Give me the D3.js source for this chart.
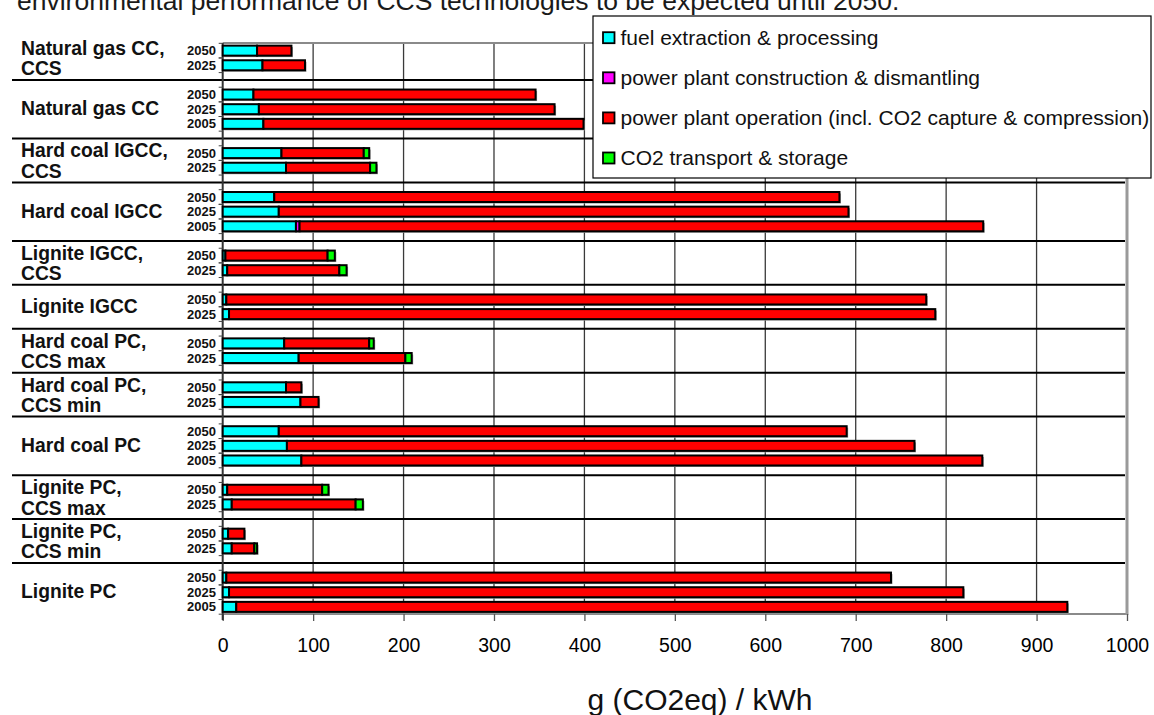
<!DOCTYPE html>
<html>
<head>
<meta charset="utf-8">
<script src="https://cdn.jsdelivr.net/npm/d3@7/dist/d3.min.js"></script>
<style>
  html, body { margin: 0; padding: 0; background: #fff; }
  svg { display: block; font-family: "Liberation Sans", Arial, sans-serif; }
</style>
</head>
<body>
<svg id="chart" width="1154" height="715"></svg>
<script>
// ---------------- data ----------------
const title = "environmental performance of CCS technologies to be expected until 2050.";
const groupLabels = [
  "Natural gas CC,\nCCS",
  "Natural gas CC",
  "Hard coal IGCC,\nCCS",
  "Hard coal IGCC",
  "Lignite IGCC,\nCCS",
  "Lignite IGCC",
  "Hard coal PC,\nCCS max",
  "Hard coal PC,\nCCS min",
  "Hard coal PC",
  "Lignite PC,\nCCS max",
  "Lignite PC,\nCCS min",
  "Lignite PC"
];
const groupYears = [
  ["2050", "2025"],
  ["2050", "2025", "2005"],
  ["2050", "2025"],
  ["2050", "2025", "2005"],
  ["2050", "2025"],
  ["2050", "2025"],
  ["2050", "2025"],
  ["2050", "2025"],
  ["2050", "2025", "2005"],
  ["2050", "2025"],
  ["2050", "2025"],
  ["2050", "2025", "2005"]
];
// one value per bar, in the order of the rows above (g CO2eq / kWh)
const fuelExtraction = [38, 44, 34, 40, 45, 65, 70, 57, 62, 81, 3, 5, 4, 7, 68, 84, 70, 86, 62, 71, 87, 5, 10, 6, 10, 4, 7, 15];
const plantConstruction = [0, 0, 0, 0, 0, 0, 0, 0, 0, 4, 0, 0, 0, 0, 0, 0, 0, 0, 0, 0, 0, 0, 0, 0, 0, 0, 0, 0];
const plantOperation = [38, 47, 312, 327, 354, 91, 93, 625, 630, 756, 113, 124, 774, 781, 94, 118, 17, 20, 628, 694, 753, 105, 137, 18, 25, 735, 812, 919];
const co2Transport = [0, 0, 0, 0, 0, 6, 7, 0, 0, 0, 8, 8, 0, 0, 5, 7, 0, 0, 0, 0, 0, 7, 8, 0, 3, 0, 0, 0];
const seriesNames = [
  "fuel extraction & processing",
  "power plant construction & dismantling",
  "power plant operation (incl. CO2 capture & compression)",
  "CO2 transport & storage"
];
const seriesColors = ["#00FFFF", "#FF00FF", "#FF0000", "#00FF00"];
const xTicks = [0, 100, 200, 300, 400, 500, 600, 700, 800, 900, 1000];
const xTitle = "g (CO2eq) / kWh";

// ---------------- build rows ----------------
const seriesValues = [fuelExtraction, plantConstruction, plantOperation, co2Transport];
const rows = [];
const groups = [];
let unit = 0, r = 0;
groupLabels.forEach((label, gi) => {
  const yrs = groupYears[gi];
  const start = unit;
  yrs.forEach((yr, k) => {
    rows.push({ year: yr, pos: start + 1 + k, values: seriesValues.map(s => s[r]) });
    r++;
  });
  unit = start + yrs.length + 1;
  groups.push({ label, start, end: unit, center: (start + unit) / 2 });
});
const totalUnits = unit;

// ---------------- scales ----------------
const svg = d3.select("#chart");
const x = d3.scaleLinear().domain([0, 1000]).range([222.7, 1127]);
const y = d3.scaleLinear().domain([0, totalUnits]).range([36, 621.5]);
const plotTop = 43, plotBottom = 614;
const barH = 10;

svg.append("rect").attr("width", 1154).attr("height", 715).attr("fill", "#fff");

// title (partially cut at the top, as in the source)
svg.append("text")
  .attr("x", 17).attr("y", 10)
  .attr("font-size", 26.5).attr("fill", "#1a1a1a")
  .text(title);

// vertical gridlines
svg.append("g").selectAll("line")
  .data(xTicks.filter(t => t > 0 && t < 1000))
  .join("line")
  .attr("x1", d => x(d)).attr("x2", d => x(d))
  .attr("y1", plotTop).attr("y2", plotBottom)
  .attr("stroke", "#3a3a3a").attr("stroke-width", 1.3);

// plot frame top / bottom / right (grey)
svg.append("line").attr("x1", x(0)).attr("x2", x(1000)).attr("y1", plotTop).attr("y2", plotTop)
  .attr("stroke", "#8a8a8a").attr("stroke-width", 2);
svg.append("line").attr("x1", x(0)).attr("x2", x(1000)).attr("y1", plotBottom).attr("y2", plotBottom)
  .attr("stroke", "#8a8a8a").attr("stroke-width", 2);
svg.append("line").attr("x1", x(1000)).attr("x2", x(1000)).attr("y1", plotTop - 1).attr("y2", plotBottom + 1)
  .attr("stroke", "#9a9a9a").attr("stroke-width", 3);

// group separators
svg.append("g").selectAll("line")
  .data(groups.slice(0, -1))
  .join("line")
  .attr("x1", 12).attr("x2", 1125)
  .attr("y1", d => y(d.end)).attr("y2", d => y(d.end))
  .attr("stroke", "#000").attr("stroke-width", 2);

// x axis
const xAxis = d3.axisBottom(x).tickValues(xTicks).tickSize(7).tickPadding(17).tickFormat(d3.format("d"));
const gx = svg.append("g").attr("transform", `translate(0,${plotBottom})`).call(xAxis);
gx.select(".domain").remove();
gx.selectAll(".tick line").attr("stroke", "#555").attr("stroke-width", 1.3);
gx.selectAll(".tick text").attr("font-size", 19.5).attr("fill", "#000")
  .attr("font-family", "'Liberation Sans', Arial, sans-serif");

// axis title
svg.append("text").attr("x", 700).attr("y", 710).attr("text-anchor", "middle")
  .attr("font-size", 30).attr("fill", "#111").text(xTitle);

// y axis line with little ticks
svg.append("line").attr("x1", x(0)).attr("x2", x(0)).attr("y1", plotTop).attr("y2", plotBottom + 6)
  .attr("stroke", "#333").attr("stroke-width", 2);
const tickPos = [];
rows.forEach(d => { tickPos.push(d.pos - 0.5); tickPos.push(d.pos + 0.5); });
svg.append("g").selectAll("line")
  .data(tickPos)
  .join("line")
  .attr("x1", x(0) - 4).attr("x2", x(0))
  .attr("y1", d => y(d)).attr("y2", d => y(d))
  .attr("stroke", "#444").attr("stroke-width", 1);

// bars
const barG = svg.append("g");
rows.forEach(d => {
  const total = d3.sum(d.values);
  const yc = y(d.pos);
  barG.append("rect")
    .attr("x", x(0) + 1.5).attr("y", yc - barH / 2 + 1.5)
    .attr("width", x(total) - x(0)).attr("height", barH)
    .attr("fill", "#9a9a9a");
  let acc = 0;
  d.values.forEach((v, si) => {
    if (v > 0) {
      barG.append("rect")
        .attr("x", x(acc)).attr("y", yc - barH / 2)
        .attr("width", x(acc + v) - x(acc)).attr("height", barH)
        .attr("fill", seriesColors[si])
        .attr("stroke", "#000").attr("stroke-width", 2);
    }
    acc += v;
  });
});

// year labels
svg.append("g").selectAll("text")
  .data(rows)
  .join("text")
  .attr("x", 216).attr("y", d => y(d.pos) + 4.6)
  .attr("text-anchor", "end")
  .attr("font-size", 13).attr("font-weight", "bold").attr("fill", "#111")
  .text(d => d.year);

// group labels
groups.forEach(g => {
  const lines = g.label.split("\n");
  const t = svg.append("text")
    .attr("font-size", 19.3).attr("font-weight", "bold").attr("fill", "#111");
  const cy = y(g.center);
  if (lines.length === 1) {
    t.append("tspan").attr("x", 21).attr("y", cy + 6).text(lines[0]);
  } else {
    t.append("tspan").attr("x", 21).attr("y", cy - 3).text(lines[0]);
    t.append("tspan").attr("x", 21).attr("y", cy - 3 + 20.5).text(lines[1]);
  }
});

// legend
const lg = svg.append("g");
lg.append("rect").attr("x", 593).attr("y", 16).attr("width", 558).attr("height", 162)
  .attr("fill", "#fff").attr("stroke", "#000").attr("stroke-width", 1.2);
const ly = d3.scalePoint().domain(seriesNames).range([37.7, 158]);
seriesNames.forEach((name, i) => {
  lg.append("rect").attr("x", 603).attr("y", ly(name) - 5.5).attr("width", 11.5).attr("height", 11)
    .attr("fill", seriesColors[i]).attr("stroke", "#000").attr("stroke-width", 1.8);
  lg.append("text").attr("x", 620.5).attr("y", ly(name) + 7.3)
    .attr("font-size", 21).attr("fill", "#111").text(name);
});
</script>
</body>
</html>
